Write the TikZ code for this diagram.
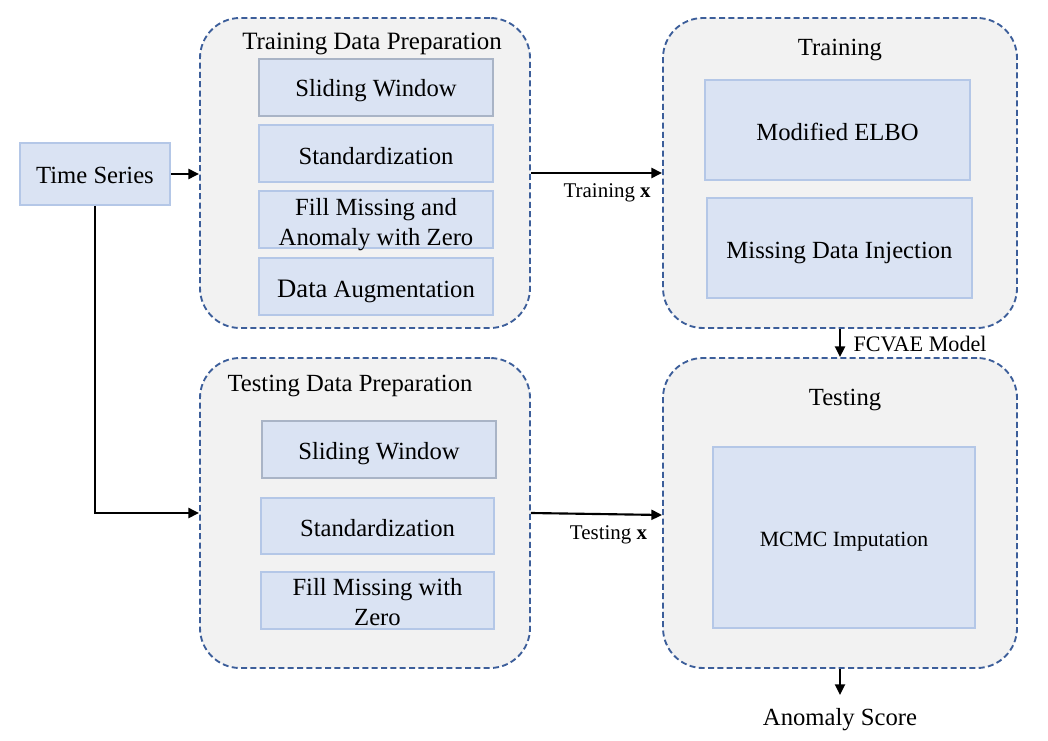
\documentclass[tikz,border=0pt]{standalone}
\usepackage{fontspec}
\setmainfont{Liberation Serif}
\usetikzlibrary{arrows.meta}
\definecolor{boxfill}{HTML}{DAE3F3}
\definecolor{boxline}{HTML}{B4C7E7}
\definecolor{boxgray}{HTML}{A9B4C6}
\definecolor{contfill}{HTML}{F2F2F2}
\definecolor{contline}{HTML}{3C5E9A}
\tikzset{
  every node/.style={font=\fontsize{18.5}{22}\selectfont},
  inner/.style={draw=boxline, line width=1.5pt, fill=boxfill, inner sep=0pt},
  txt/.style={align=center, inner sep=1pt},
  container/.style={draw=contline, line width=1.4pt, dash pattern=on 4.5pt off 2.5pt, fill=contfill, rounded corners=30pt},
  title/.style={font=\fontsize{18.5}{21}\selectfont},
  lbl/.style={font=\fontsize{15.7}{18}\selectfont},
  arr/.style={line width=1.6pt, -{Triangle[length=8pt,width=7.5pt]}},
}
\begin{document}
\begin{tikzpicture}[x=0.75pt,y=-0.75pt]
\useasboundingbox (0,0) rectangle (1048,741);
% containers
\node[container, minimum width=330*0.75pt, minimum height=310*0.75pt] (c1) at (365,173) {};
\node[container, minimum width=354*0.75pt, minimum height=310*0.75pt] (c2) at (840,173) {};
\node[container, minimum width=330*0.75pt, minimum height=310*0.75pt] (c3) at (365,513) {};
\node[container, minimum width=354*0.75pt, minimum height=310*0.75pt] (c4) at (840,513) {};
% titles
\node[title, font=\fontsize{18.7}{21}\selectfont] (t1) at (372,44) {Training Data Preparation};
\node[title] (t2) at (840,50) {Training};
\node[title] (t3) at (350,386) {Testing Data Preparation};
\node[title] (t4) at (845,400) {Testing};
% time series
\node[inner, minimum width=150*0.75pt, minimum height=62*0.75pt] (ts) at (95,174) {};
\node[txt, yshift=-0.75pt] (tst) at (ts) {Time Series};
% training data prep
\node[inner, draw=boxgray, minimum width=234*0.75pt, minimum height=57*0.75pt] (a1) at (376,87.5) {};
\node[txt, yshift=-2.25pt] (a1t) at (a1) {Sliding Window};
\node[inner, minimum width=234*0.75pt, minimum height=57*0.75pt] (a2) at (376,153.5) {};
\node[txt, yshift=-2.25pt] (a2t) at (a2) {Standardization};
\node[inner, minimum width=234*0.75pt, minimum height=57*0.75pt] (a3) at (376,219.5) {};
\node[txt, yshift=-3.75pt] (a3t) at (a3) {Fill Missing and\\Anomaly with Zero};
\node[inner, minimum width=234*0.75pt, minimum height=57*0.75pt] (a4) at (376,286.5) {};
\node[txt, yshift=-3.75pt] (a4t) at (a4) {{\fontsize{20}{22}\selectfont Data} Augmentation};
% training
\node[inner, minimum width=265*0.75pt, minimum height=100*0.75pt] (b1) at (837.5,130) {};
\node[txt, yshift=-1.5pt] (b1t) at (b1) {Modified ELBO};
\node[inner, minimum width=265*0.75pt, minimum height=100*0.75pt] (b2) at (839.5,248) {};
\node[txt, yshift=-3.75pt] (b2t) at (b2) {Missing Data Injection};
% testing data prep
\node[inner, draw=boxgray, minimum width=234*0.75pt, minimum height=57*0.75pt] (d1) at (379,449.5) {};
\node[txt, yshift=-3pt] (d1t) at (d1) {Sliding Window};
\node[inner, minimum width=233*0.75pt, minimum height=56*0.75pt] (d2) at (377.5,526) {};
\node[txt, yshift=-1.5pt] (d2t) at (d2) {Standardization};
\node[inner, minimum width=233*0.75pt, minimum height=57*0.75pt] (d3) at (377.5,600.5) {};
\node[txt, yshift=-1.2pt] (d3t) at (d3) {Fill Missing with\\Zero};
% testing
\node[inner, minimum width=262*0.75pt, minimum height=181*0.75pt] (e1) at (844,537.5) {};
\node[txt, yshift=-3pt, font=\fontsize{16.3}{19}\selectfont] (e1t) at (e1) {MCMC Imputation};
% output
\node (as) at (840,720) {Anomaly Score};
% arrows
\draw[arr] (ts.east) -- (ts.east -| c1.west);
\draw[arr] (ts.south) |- (c3.west);
\draw[arr] (c1.east) -- node[lbl, below=3.5pt, xshift=8pt] {Training \textbf{x}} (c2.west);
\draw[arr] (c3.east) -- node[lbl, below=4.5pt, xshift=9pt] {Testing \textbf{x}} ([yshift=-1.5pt]c4.west);
\draw[arr] (c2.south) -- node[lbl, right=6pt, yshift=-1pt, font=\fontsize{16.6}{19}\selectfont] {FCVAE Model} (c4.north);
\draw[arr] (c4.south) -- (c4.south |- 0,695);
\end{tikzpicture}
\end{document}
